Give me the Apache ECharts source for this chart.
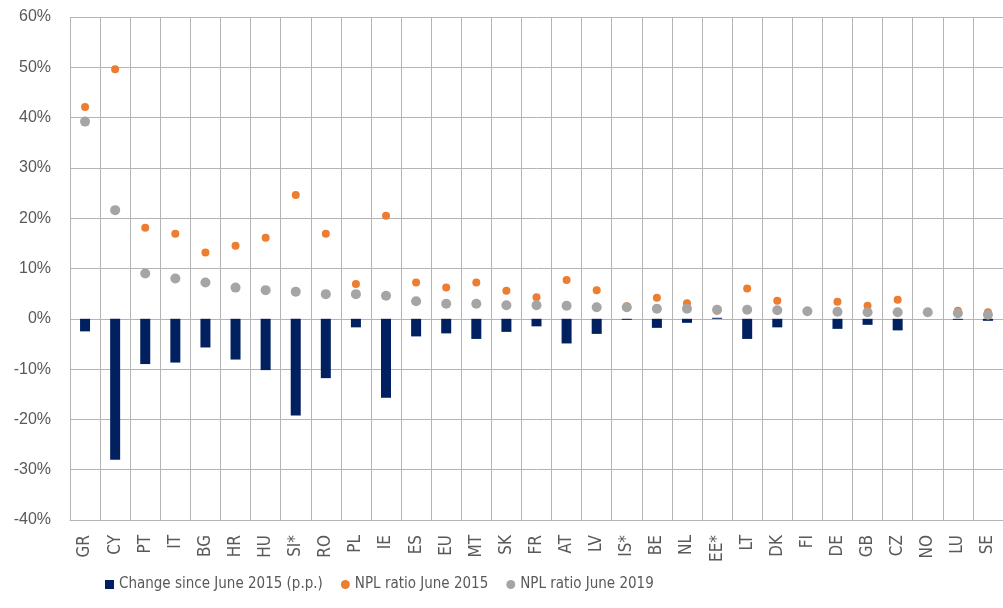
<!DOCTYPE html>
<html>
<head>
<meta charset="utf-8">
<script src="https://cdn.jsdelivr.net/npm/echarts@6/dist/echarts.min.js"></script>
<style>html,body{margin:0;padding:0;background:#fff}#c{width:1003px;height:608px}</style>
</head>
<body>
<div id="c"></div>
<script>
const categories = ['GR','CY','PT','IT','BG','HR','HU','SI*','RO','PL','IE','ES','EU','MT','SK','FR','AT','LV','IS*','BE','NL','EE*','LT','DK','FI','DE','GB','CZ','NO','LU','SE'];
const changeSince2015 = [-2.5,-28.0,-9.0,-8.7,-5.7,-8.1,-10.2,-19.2,-11.8,-1.7,-15.7,-3.5,-2.9,-4.0,-2.6,-1.5,-4.9,-3.0,-0.2,-1.8,-0.8,0.2,-4.0,-1.7,0,-2.0,-1.2,-2.3,0,-0.2,-0.4];
const npl2015 = [42.1,49.6,18.1,16.9,13.2,14.5,16.1,24.6,16.9,6.9,20.5,7.2,6.2,7.2,5.6,4.3,7.7,5.7,2.5,4.2,3.1,1.6,6.0,3.6,1.5,3.4,2.6,3.8,1.3,1.6,1.3];
const npl2019 = [39.2,21.6,9.0,8.0,7.2,6.2,5.7,5.4,4.9,4.9,4.6,3.5,3.0,3.0,2.7,2.7,2.6,2.3,2.3,2.0,2.0,1.8,1.8,1.7,1.5,1.4,1.3,1.3,1.3,1.1,0.8];
const yTicks = {min:-40, max:60, interval:10};

const FONT = '"Liberation Sans Narrow", "DejaVu Sans Condensed", "Liberation Sans", sans-serif';
const TXT = '#595959';
const GRID = '#b4b4b4';

const chart = echarts.init(document.getElementById('c'));
chart.setOption({
  animation: false,
  grid: {left: 70, right: 0, top: 17, bottom: 88, containLabel: false},
  legend: {
    left: 100, top: 572,
    itemWidth: 9, itemHeight: 9, itemGap: 18,
    textStyle: {fontFamily: FONT, fontSize: 15, color: TXT},
    data: [
      {name: 'Change since June 2015 (p.p.)', icon: 'rect'},
      {name: 'NPL ratio June 2015', icon: 'circle'},
      {name: 'NPL ratio June 2019', icon: 'circle'}
    ]
  },
  xAxis: {
    type: 'category',
    data: categories,
    boundaryGap: true,
    axisLine: {onZero: false, lineStyle: {color: GRID}},
    axisTick: {show: false},
    splitLine: {show: true, lineStyle: {color: GRID, width: 1}},
    axisLabel: {rotate: 90, fontFamily: FONT, fontSize: 17, color: TXT, margin: 15, interval: 0}
  },
  yAxis: {
    type: 'value',
    min: yTicks.min, max: yTicks.max, interval: yTicks.interval,
    axisLine: {show: false},
    axisTick: {show: false},
    splitLine: {show: true, lineStyle: {color: GRID, width: 1}},
    axisLabel: {formatter: '{value}%', fontFamily: '"Liberation Sans", sans-serif', fontSize: 16, color: TXT, margin: 19}
  },
  series: [
    {name: 'Change since June 2015 (p.p.)', type: 'bar', data: changeSince2015, barWidth: 10, itemStyle: {color: '#002060'}, z: 2},
    {name: 'NPL ratio June 2015', type: 'scatter', data: npl2015, symbol: 'circle', symbolSize: 8, itemStyle: {color: '#ED7D31', opacity: 1}, z: 3},
    {name: 'NPL ratio June 2019', type: 'scatter', data: npl2019, symbol: 'circle', symbolSize: 10, itemStyle: {color: '#A5A5A5', opacity: 1}, z: 4}
  ]
});
</script>
</body>
</html>
